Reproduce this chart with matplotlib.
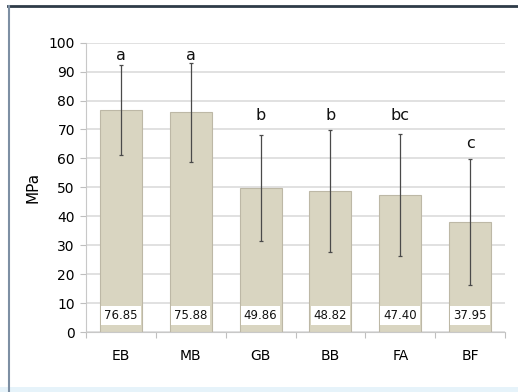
import matplotlib.pyplot as plt
from matplotlib.patches import Rectangle
from matplotlib.lines import Line2D

groups = ["EB", "MB", "GB", "BB", "FA", "BF"]
means = [76.85, 75.88, 49.86, 48.82, 47.40, 37.95]
sds = [15.5, 17.2, 18.4, 21.0, 21.0, 21.8]
letters = ["a", "a", "b", "b", "bc", "c"]
letter_y = [95.5, 95.5, 75.0, 75.0, 75.0, 65.0]

plt.rcParams['font.family'] = ['DejaVu Sans']

fig = plt.figure(figsize=(5.18, 3.92), dpi=100)
fig.patch.set_facecolor('white')

# outer chart frame
fig.patches.append(Rectangle((0, 0), 1, 0.012, transform=fig.transFigure,
                             facecolor='#e6f3fa', edgecolor='none', zorder=0))
fig.lines.append(Line2D([8/518, 1], [1 - 6/392, 1 - 6/392], transform=fig.transFigure,
                        color='#2e3b48', lw=2))
fig.lines.append(Line2D([8.5/518, 8.5/518], [0, 1 - 6/392], transform=fig.transFigure,
                        color='#7d8fa3', lw=1.5))

ax = fig.add_axes([86/518, 1 - 332/392, 419/518, (332 - 42.7)/392])
x = list(range(len(groups)))

ax.bar(x, means, width=0.6, color='#d9d5c1', edgecolor='#bdb8a6', linewidth=0.8, zorder=2)
ax.errorbar(x, means, yerr=sds, fmt='none', ecolor='#4a4a4a', elinewidth=0.9,
            capsize=1.2, capthick=0.9, zorder=3)

for xi, m, lab, ly in zip(x, means, letters, letter_y):
    ax.text(xi, ly, lab, ha='center', va='center', fontsize=11.5, color='#111111', zorder=4)
    ax.text(xi, 5.6, f"{m:.2f}", ha='center', va='center', fontsize=8.5, color='#111111',
            zorder=4, bbox=dict(boxstyle='square,pad=0.25', facecolor='white', edgecolor='none'))

ax.set_xlim(-0.5, len(groups) - 0.5)
ax.set_ylim(0, 100)
ax.set_yticks(range(0, 101, 10))
ax.set_xticks(x)
ax.set_xticklabels(groups, fontsize=10)
ax.set_xticks([i - 0.5 for i in range(len(groups) + 1)], minor=True)
ax.tick_params(axis='x', which='major', length=0, pad=12)
ax.tick_params(axis='x', which='minor', length=4, color='#bfbfbf', width=0.8)
ax.tick_params(axis='y', length=4, color='#bfbfbf', width=0.8, labelsize=10, pad=4)
ax.set_ylabel("MPa", fontsize=11, labelpad=6)

ax.yaxis.grid(True, color='#dcdcdc', linewidth=1.2, zorder=0)
ax.set_axisbelow(True)
for side in ['top', 'right']:
    ax.spines[side].set_visible(False)
ax.spines['left'].set_color('#c8c8c8')
ax.spines['bottom'].set_color('#c8c8c8')

plt.savefig("out.png", dpi=100)
